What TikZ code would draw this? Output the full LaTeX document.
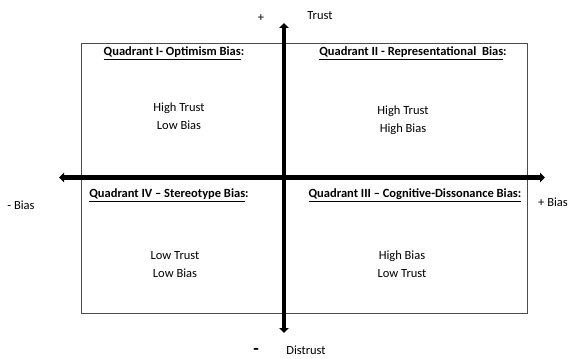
\documentclass[tikz,border=0pt]{standalone}
\usepackage{fontspec}
\setmainfont{Carlito}
\usetikzlibrary{arrows.meta}
\begin{document}
\begin{tikzpicture}[x=1pt,y=-1pt,
  every node/.style={inner sep=0pt,font=\fontsize{12.5}{18}\selectfont},
  frame/.style={draw=black!70,line width=0.9pt},
  axis/.style={line width=4.2pt,{Triangle[length=5pt,width=9.5pt]}-{Triangle[length=5pt,width=9.5pt]}},
  qtitle/.style={font=\fontsize{12.5}{18}\selectfont\bfseries},
  body/.style={align=center},
  lbl/.style={}]
\useasboundingbox (0,0) rectangle (569,358);
% quadrant frame
\draw[frame] (81.5,43) rectangle (527.5,313);
% axes
\coordinate (left) at (59,177.5);
\coordinate (right) at (545,177.5);
\coordinate (top) at (284,23);
\coordinate (bottom) at (284,333);
\draw[axis] (left) -- (right);
\draw[axis] (top) -- (bottom);
% axis labels
\node[lbl] (plus) at (261,18) {+};
\node[lbl] (trust) at (320,16) {Trust};
\node[lbl] (minus) at (256,351.5) {\fontsize{18}{18}\selectfont\bfseries -};
\node[lbl] (distrust) at (306,350) {Distrust};
\node[lbl] (nbias) at (21,205) {- Bias};
\node[lbl,anchor=east] (pbias) at (568,202) {+ Bias};
% quadrant titles
\node[qtitle] (q1) at (174,53) {\underline{Quadrant I- Optimism Bias}:};
\node[qtitle] (q2) at (413,53) {\underline{Quadrant II - Representational\ \ Bias}:};
\node[qtitle] (q4) at (169,195) {\underline{Quadrant IV -- Stereotype Bias}:};
\node[qtitle] (q3) at (415,195) {\underline{Quadrant III -- Cognitive-Dissonance Bias:}};
% quadrant contents
\node[body] (b1) at (179,116) {High Trust\\Low Bias};
\node[body] (b2) at (403,120) {High Trust\\High Bias};
\node[body] (b4) at (175,264.5) {Low Trust\\Low Bias};
\node[body] (b3) at (402,264.5) {High Bias\\Low Trust};
\end{tikzpicture}
\end{document}
